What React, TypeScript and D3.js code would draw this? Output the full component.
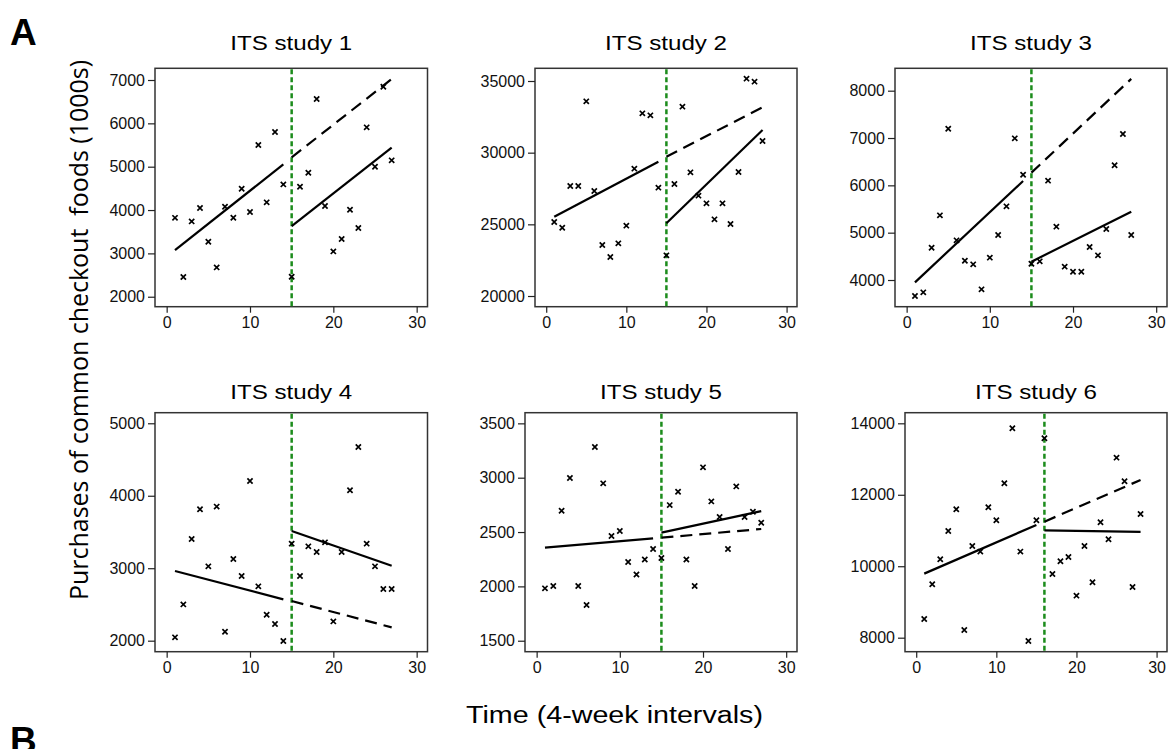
import React, { useEffect, useRef } from 'react';
import { select, scaleLinear, axisLeft, axisBottom, range } from 'd3';

const titles = ['ITS study 1', 'ITS study 2', 'ITS study 3', 'ITS study 4', 'ITS study 5', 'ITS study 6'];

const study1 = [3820, 2454, 3738, 4046, 3269, 2677, 4077, 3823, 4492, 3954, 5500, 4177, 5800, 4592,
  2462, 4538, 4862, 6562, 4092, 3046, 3331, 4008, 3585, 5908, 5000, 6846, 5146];
const study2 = [25163, 24767, 27674, 27674, 33581, 27326, 23558, 22721, 23674, 24907, 28884, 32744, 32605, 27558,
  22837, 27814, 33209, 28628, 27000, 26465, 25349, 26465, 25023, 28651, 35163, 34953, 30814];
const study3 = [3662, 3739, 4683, 5366, 7197, 4838, 4408, 4331, 3803, 4472, 4951, 5556, 6993, 6225,
  4345, 4394, 6099, 5127, 4282, 4176, 4176, 4697, 4521, 5077, 6423, 7085, 4951];
const study4 = [2046, 2501, 3403, 3813, 3026, 3850, 2124, 3127, 2892, 4204, 2750, 2358, 2230, 1995,
  3339, 2892, 3302, 3224, 3357, 2266, 3224, 4075, 4673, 3339, 3026, 2713, 2713];
const study5 = [1982, 2003, 2696, 2997, 2003, 1828, 3282, 2948, 2463, 2509, 2224, 2110, 2248, 2344,
  2261, 2748, 2871, 2248, 2003, 3095, 2782, 2638, 2344, 2920, 2638, 2687, 2586];
const study6 = [8524, 9494, 10194, 10987, 11593, 8216, 10567, 10409, 11649, 11285, 12321, 13860, 10409, 7909,
  11285, 13580, 9784, 10138, 10259, 9177, 10567, 9550, 11229, 10754, 13039, 12377, 9420, 11463];

// first interval after the intervention
const interventions = [15, 15, 15, 15, 15, 16];

// fitted segments: pre start, pre end, counterfactual start, counterfactual end, post start, post end
const fit1 = [3077, 5054, 5215, 7023, 3631, 5438];
const fit2 = [25535, 29372, 29721, 33163, 25070, 31581];
const fit3 = [3951, 6092, 6268, 8250, 4387, 5444];
const fit4 = [2961, 2570, 2547, 2184, 3514, 3035];
const fit5 = [2356, 2442, 2448, 2528, 2494, 2693];
const fit6 = [9793, 11155, 11248, 12414, 11006, 10959];

const yTicks1 = [2000, 3000, 4000, 5000, 6000, 7000];
const yTicks2 = [20000, 25000, 30000, 35000];
const yTicks3 = [4000, 5000, 6000, 7000, 8000];
const yTicks4 = [2000, 3000, 4000, 5000];
const yTicks5 = [1500, 2000, 2500, 3000, 3500];
const yTicks6 = [8000, 10000, 12000, 14000];

const yDomain1 = [1770, 7270];
const yDomain2 = [19254, 35886];
const yDomain3 = [3436, 8473];
const yDomain4 = [1848, 5146];
const yDomain5 = [1399, 3598];
const yDomain6 = [7608, 14297];

const xTicks = [0, 10, 20, 30];
const xDomain = [-1.4, 31.3];

const studies = [study1, study2, study3, study4, study5, study6];
const fits = [fit1, fit2, fit3, fit4, fit5, fit6];
const yTicks = [yTicks1, yTicks2, yTicks3, yTicks4, yTicks5, yTicks6];
const yDomains = [yDomain1, yDomain2, yDomain3, yDomain4, yDomain5, yDomain6];

const font = "'Liberation Sans', Arial, sans-serif";

const App = () => {
  const svgRef = useRef<SVGSVGElement>(null);

  useEffect(() => {
    const svg = select(svgRef.current);
    svg.selectAll('*').remove();

    const rowTop = [68.3, 412.7];
    const rowBottom = [306.7, 651.7];
    const titleY = [50, 399];
    const colRight = [427.5, 797, 1167];
    const frameLeft = [155, 535, 895, 155, 525, 905];

    studies.forEach((values, i) => {
      const row = Math.floor(i / 3);
      const col = i % 3;
      const left = frameLeft[i];
      const right = colRight[col];
      const top = rowTop[row];
      const bottom = rowBottom[row];

      const x = scaleLinear().domain(xDomain).range([left, right]);
      const y = scaleLinear().domain(yDomains[i]).range([bottom, top]);

      const g = svg.append('g');

      g.append('rect')
        .attr('x', left).attr('y', top)
        .attr('width', right - left).attr('height', bottom - top)
        .attr('fill', 'none').attr('stroke', '#333').attr('stroke-width', 1.5);

      const yAxis = g.append('g')
        .attr('transform', `translate(${left},0)`)
        .call(axisLeft(y).tickValues(yTicks[i]).tickSize(7).tickPadding(3).tickFormat(d => String(d)));
      const xAxis = g.append('g')
        .attr('transform', `translate(0,${bottom})`)
        .call(axisBottom(x).tickValues(xTicks).tickSize(6).tickPadding(4).tickFormat(d => String(d)));

      [yAxis, xAxis].forEach(a => {
        a.attr('font-family', font).attr('font-size', 16);
        a.select('.domain').remove();
        a.selectAll('line').attr('stroke', '#222').attr('stroke-width', 1.2);
        a.selectAll('text').style('font-family', font).style('font-size', '16px').attr('fill', '#111');
      });

      // intervention line
      const ix = x(interventions[i]);
      g.append('line')
        .attr('x1', ix).attr('x2', ix)
        .attr('y1', top + 1).attr('y2', bottom)
        .attr('stroke', '#1c8c1c').attr('stroke-width', 2.5)
        .attr('stroke-dasharray', '5,3');

      // fitted segments
      const n = values.length;
      const start = interventions[i];
      const f = fits[i];
      const segs = [
        { x1: 1, y1: f[0], x2: start - 1, y2: f[1], dash: null },
        { x1: start, y1: f[2], x2: n, y2: f[3], dash: '12,7' },
        { x1: start, y1: f[4], x2: n, y2: f[5], dash: null },
      ];
      segs.forEach(s => {
        g.append('line')
          .attr('x1', x(s.x1)).attr('y1', y(s.y1))
          .attr('x2', x(s.x2)).attr('y2', y(s.y2))
          .attr('stroke', '#000').attr('stroke-width', 2.2)
          .attr('stroke-dasharray', s.dash);
      });

      // observations
      g.selectAll('.pt')
        .data(values)
        .join('path')
        .attr('class', 'pt')
        .attr('transform', (v, k) => `translate(${x(range(1, n + 1)[k])},${y(v)})`)
        .attr('d', 'M-2.6,-2.6L2.6,2.6M-2.6,2.6L2.6,-2.6')
        .attr('stroke', '#000').attr('stroke-width', 1.7);

      g.append('text')
        .attr('x', (left + right) / 2).attr('y', titleY[row])
        .attr('text-anchor', 'middle')
        .style('font-family', font).style('font-size', '20px')
        .attr('textLength', 122).attr('lengthAdjust', 'spacingAndGlyphs')
        .text(titles[i]);
    });

    svg.append('text')
      .attr('transform', 'translate(88,330) rotate(-90)')
      .attr('text-anchor', 'middle')
      .style('font-family', "'Open Sans', sans-serif").style('font-size', '25px')
      .attr('textLength', 540).attr('lengthAdjust', 'spacingAndGlyphs')
      .style('white-space', 'pre')
      .text('Purchases of common checkout  foods (1000s)');

    svg.append('text')
      .attr('x', 614.5).attr('y', 723)
      .attr('text-anchor', 'middle')
      .style('font-family', font).style('font-size', '23px')
      .attr('textLength', 297).attr('lengthAdjust', 'spacingAndGlyphs')
      .text('Time (4-week intervals)');

    svg.append('text')
      .attr('x', 10).attr('y', 45)
      .style('font-family', font).style('font-weight', 'bold').style('font-size', '37px')
      .text('A');
    svg.append('text')
      .attr('x', 10).attr('y', 753)
      .style('font-family', font).style('font-weight', 'bold').style('font-size', '37px')
      .text('B');
  }, []);

  return (
    <svg ref={svgRef} width={1168} height={749}
      style={{ position: 'absolute', left: 0, top: 0, background: '#fff' }} />
  );
};

export default App;
